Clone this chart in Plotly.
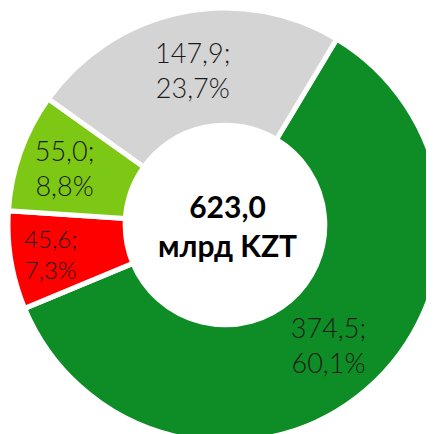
import plotly.graph_objects as go

labels = ["A", "B", "C", "D"]
values = [374.5, 45.6, 55.0, 147.9]
colors = ["#0e8c26", "#ff0000", "#7dc814", "#d4d4d4"]
center_text = "<b>623,0<br>млрд KZT</b>"

fig = go.Figure(go.Pie(
    labels=labels, values=values, sort=False, direction="clockwise", rotation=31,
    hole=0.46,
    marker=dict(colors=colors, line=dict(color="white", width=5)),
    texttemplate="%{value:.1f};<br>%{percent:.1%}",
    textposition="inside", insidetextorientation="horizontal",
    textfont=dict(family="Lato Light, Lato", size=27, color="#1a1a1a", weight=200),
    domain=dict(x=[0, 1], y=[0, 1]),
    showlegend=False, hoverinfo="skip",
))
fig.add_annotation(text=center_text, x=0.505, y=0.5, xref="paper", yref="paper",
                   showarrow=False, font=dict(family="Lato", size=30, color="#000000"))
fig.update_layout(width=434, height=434, margin=dict(l=0, r=0, t=0, b=0),
                  paper_bgcolor="white", plot_bgcolor="white", separators=", ")
fig.write_html("out.html")
